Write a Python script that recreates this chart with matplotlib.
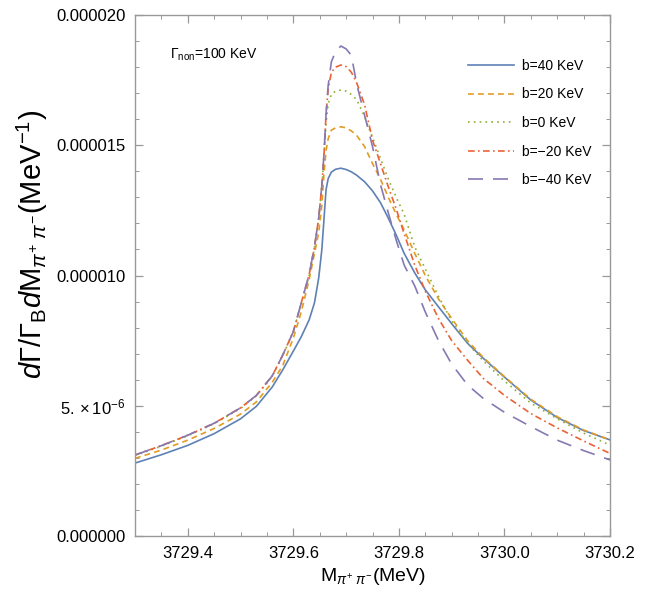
import matplotlib
matplotlib.use("Agg")
import matplotlib.pyplot as plt
from matplotlib.ticker import MultipleLocator, FixedLocator, FixedFormatter

plt.rcParams['font.family'] = ['Liberation Sans', 'DejaVu Sans']
plt.rcParams['mathtext.fontset'] = 'custom'
plt.rcParams['mathtext.rm'] = 'Liberation Sans'
plt.rcParams['mathtext.it'] = 'Liberation Sans:italic'

# invariant mass (MeV)
mass = [3729.30, 3729.35, 3729.40, 3729.45, 3729.50, 3729.53, 3729.56, 3729.58,
        3729.60, 3729.615, 3729.63, 3729.64, 3729.648, 3729.654, 3729.658, 3729.662,
        3729.666, 3729.672, 3729.68, 3729.69, 3729.70, 3729.71, 3729.72, 3729.735,
        3729.75, 3729.765, 3729.78, 3729.795, 3729.81, 3729.83, 3729.85, 3729.875,
        3729.90, 3729.93, 3729.96, 3730.00, 3730.05, 3730.10, 3730.15, 3730.20]

# rates in units of 1e-6 MeV^-1
b_p40 = [2.80, 3.12, 3.48, 3.93, 4.50, 4.98, 5.72, 6.38,
         7.1, 7.65, 8.3, 8.95, 9.9, 11.0, 12.15, 13.3,
         13.72, 13.97, 14.08, 14.12, 14.07, 13.98, 13.85, 13.6,
         13.25, 12.8, 12.2, 11.55, 10.85, 10.1, 9.45, 8.8,
         8.15, 7.4, 6.82, 6.1, 5.22, 4.55, 4.05, 3.69]
b_p20 = [2.98, 3.30, 3.68, 4.13, 4.68, 5.15, 5.9, 6.55,
         7.6, 8.6, 9.85, 10.85, 11.65, 12.7, 13.9, 14.8,
         15.25, 15.58, 15.67, 15.71, 15.67, 15.55, 15.38, 14.95,
         14.3, 13.7, 13.0, 12.35, 11.75, 10.85, 10.0, 9.1,
         8.35, 7.5, 6.85, 6.12, 5.25, 4.58, 4.07, 3.69]
b_0 = [3.09, 3.45, 3.85, 4.31, 4.90, 5.38, 6.13, 6.93,
       7.83, 8.93, 10.0, 11.05, 12.15, 13.4, 14.55, 15.84,
       16.6, 16.95, 17.08, 17.12, 17.08, 16.95, 16.75, 16.1,
       15.3, 14.5, 13.7, 13.0, 12.35, 11.1, 10.25, 9.2,
       8.25, 7.4, 6.72, 5.95, 5.1, 4.5, 3.95, 3.49]
b_m20 = [3.11, 3.47, 3.87, 4.33, 4.92, 5.40, 6.15, 6.95,
         7.85, 8.95, 10.05, 11.1, 12.2, 13.45, 14.6, 16.2,
         17.15, 17.8, 18.0, 18.08, 18.02, 17.8, 17.4, 16.55,
         15.2, 14.3, 13.4, 12.55, 11.6, 10.4, 9.4, 8.35,
         7.5, 6.75, 6.05, 5.4, 4.7, 4.15, 3.65, 3.17]
b_m40 = [3.11, 3.47, 3.87, 4.33, 4.92, 5.40, 6.15, 6.95,
         7.85, 8.95, 10.05, 11.1, 12.2, 13.45, 14.65, 16.22,
         17.3, 18.2, 18.6, 18.81, 18.7, 18.45, 17.35, 16.15,
         14.95, 13.5, 12.4, 11.35, 10.4, 9.6, 8.6, 7.5,
         6.6, 5.8, 5.28, 4.75, 4.2, 3.68, 3.28, 2.92]

labels = ["b=40 KeV", "b=20 KeV", "b=0 KeV", "b=\u221220 KeV", "b=\u221240 KeV"]
colors = ["#5E81B5", "#E19C24", "#8FB032", "#EB6235", "#8778B3"]
dashes = [None, (3.5, 2.5), (1, 2.5), (4, 2, 1, 2), (9, 6)]

fig = plt.figure(figsize=(6.5, 5.94), dpi=100)
ax = fig.add_axes([0.2077, 0.0976, 0.7308, 0.8771])

for ys, lab, c, d in zip([b_p40, b_p20, b_0, b_m20, b_m40], labels, colors, dashes):
    vals = [v * 1e-6 for v in ys]
    line, = ax.plot(mass, vals, color=c, lw=1.2, label=lab)
    if d is not None:
        line.set_dashes(d)

ax.set_xlim(3729.3, 3730.2)
ax.set_ylim(0, 2e-5)

ax.xaxis.set_major_locator(FixedLocator([3729.4, 3729.6, 3729.8, 3730.0, 3730.2]))
ax.xaxis.set_major_formatter(FixedFormatter(["3729.4", "3729.6", "3729.8", "3730.0", "3730.2"]))
ax.xaxis.set_minor_locator(MultipleLocator(0.05))
ax.yaxis.set_major_locator(FixedLocator([0, 5e-6, 1e-5, 1.5e-5, 2e-5]))
ax.yaxis.set_major_formatter(FixedFormatter(["0.000000", r"$5.\times10^{-6}$", "0.000010",
                                             "0.000015", "0.000020"]))
ax.yaxis.set_minor_locator(MultipleLocator(1e-6))

for s in ax.spines.values():
    s.set_color("#999999")
    s.set_linewidth(1.0)
ax.tick_params(which='both', direction='in', top=True, right=True, color="#999999",
               labelsize=12, pad=7)
ax.tick_params(which='major', length=6, width=0.9)
ax.tick_params(which='minor', length=3, width=0.7)

ax.set_xlabel(r"M$_{\pi^{+}\ \pi^{-}}$(MeV)", fontsize=14, labelpad=4)
ax.set_ylabel(r"$d$$\Gamma$/$\Gamma_{\rm B}$$d$M$_{\pi^{+}\ \pi^{-}}$(MeV$^{-1}$)",
              fontsize=21)
ax.yaxis.set_label_coords(-0.178, 0.56)

ax.text(0.074, 0.923, r"$\Gamma_{\rm non}$=100 KeV", transform=ax.transAxes,
        fontsize=10, va='center', ha='left')

ax.legend(frameon=False, loc='upper left', bbox_to_anchor=(0.675, 0.94), fontsize=10,
          handlelength=3.3, handletextpad=0.6, labelspacing=1.05)

fig.savefig("out.png", dpi=100)
